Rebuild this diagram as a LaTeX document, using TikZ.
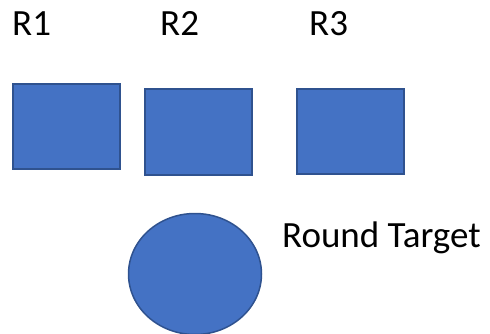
\documentclass[tikz,border=0pt]{standalone}
\usepackage{fontspec}
\setmainfont{Carlito}
\definecolor{shapeblue}{RGB}{68, 114, 196}
\definecolor{shapeedge}{RGB}{47, 82, 143}
\usetikzlibrary{positioning,shapes.geometric}

\tikzset{
    blockbox/.style={rectangle, draw=shapeedge, fill=shapeblue, line width=2pt, inner sep=0pt, minimum width=107pt, minimum height=85pt},
    labeltext/.style={anchor=base west, inner sep=0pt, font=\fontsize{37}{44}\selectfont}
}

\begin{document}
\begin{tikzpicture}[x=1pt, y=1pt]
    \useasboundingbox (0,0) rectangle (490,-334);

    \node[labeltext] (l1) at (12,-36) {R1};
    \node[labeltext] (l2) at (160,-36) {R2};
    \node[labeltext] (l3) at (309,-36) {R3};

    \node[blockbox] (r1) at (66,-127) {};
    \node[blockbox] (r2) at (198,-132) {};
    \node[blockbox] (r3) at (350,-131.5) {};

    \node[ellipse, draw=shapeedge, fill=shapeblue, line width=1.5pt, inner sep=0pt, minimum width=133pt, minimum height=121pt] (target) at (195,-274) {};
    \node[labeltext] (tlabel) at (282,-247) {Round Target};
\end{tikzpicture}
\end{document}
